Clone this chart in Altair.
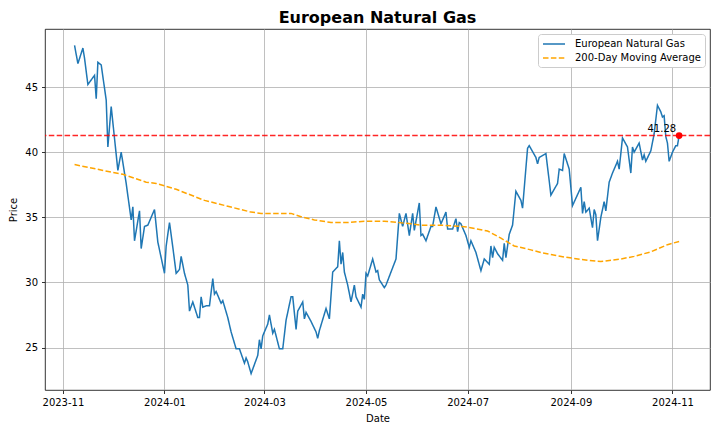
import altair as alt
import pandas as pd

# ---- data ----
price_dates = [
    "2023-11-08","2023-11-10","2023-11-13","2023-11-14","2023-11-16","2023-11-20","2023-11-21","2023-11-22",
    "2023-11-24","2023-11-27","2023-11-28","2023-11-30","2023-12-04","2023-12-06","2023-12-09","2023-12-12",
    "2023-12-13","2023-12-14","2023-12-17","2023-12-18","2023-12-20","2023-12-22","2023-12-26","2023-12-28",
    "2023-12-30","2024-01-01","2024-01-02","2024-01-04","2024-01-06","2024-01-08","2024-01-10","2024-01-11",
    "2024-01-13","2024-01-15","2024-01-16","2024-01-18","2024-01-21","2024-01-22","2024-01-23","2024-01-24",
    "2024-01-26","2024-01-28","2024-01-30","2024-01-31","2024-02-01","2024-02-04","2024-02-05","2024-02-08",
    "2024-02-10","2024-02-13","2024-02-15","2024-02-18","2024-02-19","2024-02-20","2024-02-22","2024-02-26",
    "2024-02-27","2024-02-28","2024-02-29","2024-03-03","2024-03-04","2024-03-06","2024-03-07","2024-03-10",
    "2024-03-12","2024-03-14","2024-03-17","2024-03-18","2024-03-20","2024-03-21","2024-03-24","2024-03-25",
    "2024-03-26","2024-03-29","2024-04-01","2024-04-02","2024-04-03","2024-04-07","2024-04-09","2024-04-11",
    "2024-04-14","2024-04-15","2024-04-16","2024-04-17","2024-04-18","2024-04-20","2024-04-22","2024-04-24",
    "2024-04-25","2024-04-28","2024-04-29","2024-04-30","2024-05-01","2024-05-02","2024-05-05","2024-05-07",
    "2024-05-08","2024-05-09","2024-05-12","2024-05-13","2024-05-16","2024-05-19","2024-05-21","2024-05-23",
    "2024-05-25","2024-05-27","2024-05-29","2024-05-30","2024-06-02","2024-06-03","2024-06-04","2024-06-06",
    "2024-06-09","2024-06-10","2024-06-12","2024-06-15","2024-06-18","2024-06-19","2024-06-22","2024-06-24",
    "2024-06-25","2024-06-26","2024-06-27","2024-06-30","2024-07-02","2024-07-03","2024-07-06","2024-07-09",
    "2024-07-11","2024-07-14","2024-07-15","2024-07-16","2024-07-17","2024-07-19","2024-07-22","2024-07-23",
    "2024-07-24","2024-07-26","2024-07-28","2024-07-30","2024-08-02","2024-08-03","2024-08-06","2024-08-07",
    "2024-08-11","2024-08-12","2024-08-13","2024-08-17","2024-08-19","2024-08-20","2024-08-24","2024-08-25",
    "2024-08-27","2024-08-28","2024-08-31","2024-09-02","2024-09-07","2024-09-08","2024-09-09","2024-09-10",
    "2024-09-12","2024-09-14","2024-09-15","2024-09-16","2024-09-17","2024-09-19","2024-09-21","2024-09-22",
    "2024-09-24","2024-09-26","2024-09-29","2024-09-30","2024-10-02","2024-10-05","2024-10-07","2024-10-08",
    "2024-10-09","2024-10-12","2024-10-14","2024-10-15","2024-10-16","2024-10-19","2024-10-21","2024-10-23",
    "2024-10-25","2024-10-26","2024-10-27","2024-10-28","2024-10-29","2024-10-30","2024-11-01","2024-11-03",
    "2024-11-04","2024-11-05",
]
price_values = [
    48.2, 46.8, 48.0, 47.2, 45.2, 45.9, 44.1, 46.9,
    46.7, 44.0, 40.4, 43.5, 38.6, 40.0, 37.6, 34.8,
    35.8, 33.2, 35.5, 32.6, 34.3, 34.4, 35.6, 33.1,
    31.9, 30.7, 32.8, 34.6, 32.7, 30.7, 31.0, 32.0,
    30.7, 29.8, 27.8, 28.5, 27.3, 27.3, 28.9, 28.1,
    28.2, 28.2, 30.3, 29.1, 29.3, 28.4, 28.6, 27.3,
    26.2, 24.9, 24.9, 23.8, 24.2, 23.9, 23.0, 24.4,
    25.6, 24.9, 25.9, 26.8, 27.5, 26.1, 26.4, 24.9,
    24.9, 27.1, 28.9, 28.9, 26.4, 27.8, 28.5, 27.2,
    27.7, 27.0, 26.2, 25.7, 26.3, 28.0, 27.2, 30.8,
    31.2, 33.2, 31.4, 32.3, 30.8, 29.8, 28.5, 29.8,
    28.9, 28.1, 29.1, 28.7, 30.7, 30.5, 31.8, 30.8,
    30.9, 30.2, 29.6, 29.8, 30.8, 31.8, 35.3, 34.3,
    35.3, 33.6, 35.3, 34.0, 36.1, 33.6, 33.7, 33.2,
    34.3, 34.3, 35.8, 34.5, 35.4, 34.1, 34.1, 34.9,
    33.9, 34.6, 34.5, 33.6, 32.7, 33.2, 32.3, 30.9,
    31.8, 31.4, 32.8, 31.9, 32.7, 32.2, 31.7, 33.0,
    31.9, 33.7, 34.4, 37.0, 36.3, 35.7, 40.3, 40.5,
    39.6, 39.1, 39.6, 39.9, 37.8, 36.7, 37.6, 38.7,
    38.6, 39.9, 38.7, 35.9, 37.3, 35.3, 36.2, 35.4,
    35.7, 34.2, 35.6, 35.2, 33.2, 35.0, 36.2, 35.5,
    37.7, 38.4, 39.3, 38.7, 41.1, 40.4, 38.4, 40.4,
    40.0, 40.7, 39.4, 39.8, 39.3, 40.1, 41.4, 43.6,
    43.1, 42.7, 42.8, 41.2, 40.7, 39.3, 40.0, 40.5,
    40.5, 41.28,
]
ma_dates = [
    "2023-11-08","2023-11-29","2023-12-07","2023-12-21","2023-12-27","2024-01-08","2024-01-11","2024-01-25",
    "2024-02-08","2024-02-22","2024-02-28","2024-03-17","2024-03-23","2024-03-31","2024-04-10","2024-04-20",
    "2024-04-30","2024-05-12","2024-05-20","2024-05-28","2024-06-03","2024-06-15","2024-06-27","2024-07-01",
    "2024-07-13","2024-07-21","2024-07-29","2024-08-08","2024-08-14","2024-08-28","2024-09-11","2024-09-19",
    "2024-10-01","2024-10-09","2024-10-19","2024-10-29","2024-11-05",
]
ma_values = [
    39.05, 38.5, 38.3, 37.7, 37.6, 37.15, 37.0, 36.3,
    35.85, 35.4, 35.3, 35.3, 35.05, 34.8, 34.6, 34.6,
    34.7, 34.7, 34.6, 34.5, 34.4, 34.4, 34.3, 34.25,
    33.95, 33.4, 32.8, 32.5, 32.3, 31.95, 31.7, 31.6,
    31.8, 32.0, 32.35, 32.9, 33.15,
]
series_names = ["European Natural Gas", "200-Day Moving Average"]
x_ticks = ["2023-11", "2024-01", "2024-03", "2024-05", "2024-07", "2024-09", "2024-11"]
y_ticks = [25, 30, 35, 40, 45]

# ---- tables ----
df_price = pd.DataFrame({"date": price_dates, "value": price_values, "series": series_names[0]})
df_ma = pd.DataFrame({"date": ma_dates, "value": ma_values, "series": series_names[1]})
df = pd.concat([df_price, df_ma], ignore_index=True)
last_value = price_values[-1]
df_last = pd.DataFrame({"date": [price_dates[-1]], "value": [last_value], "label": [f"{last_value:.2f}"]})

FONT = "DejaVu Sans"

def dt(s, h=0):
    y, m, d = s.split("-")
    return alt.DateTime(year=int(y), month=int(m), date=int(d), hours=h, utc=True)

x_scale = alt.Scale(type="utc", domain=[dt("2023-10-21", 6), dt("2024-11-23", 13)], nice=False)
y_scale = alt.Scale(domain=[21.74, 49.46], nice=False, zero=False)

x_axis = alt.Axis(
    title="Date", values=[dt(t + "-01") for t in x_ticks],
    labelExpr="utcFormat(datum.value, '%Y-%m')",
    labelFlush=False, labelOverlap=False,
)
y_axis = alt.Axis(title="Price", values=y_ticks, titlePadding=6)

X = alt.X("date:T", scale=x_scale, axis=x_axis)
Y = alt.Y("value:Q", scale=y_scale, axis=y_axis)

lines = alt.Chart(df).mark_line(strokeWidth=1.5).encode(
    x=X,
    y=Y,
    color=alt.Color(
        "series:N",
        scale=alt.Scale(domain=series_names, range=["#1f77b4", "#ffa500"]),
        legend=alt.Legend(title=None),
    ),
    strokeDash=alt.StrokeDash(
        "series:N",
        scale=alt.Scale(domain=series_names, range=[[1, 0], [5.5, 2.4]]),
        legend=alt.Legend(title=None),
    ),
    order=alt.Order("date:T"),
)

hline = alt.Chart(df_last).mark_rule(color="#ff0000", opacity=0.85, strokeWidth=1.6, strokeDash=[5.5, 2.4]).encode(
    y=Y
)

dot = alt.Chart(df_last).mark_point(filled=True, color="#ff0000", size=45, opacity=1).encode(
    x=X,
    y=Y,
)

label = alt.Chart(df_last).mark_text(
    align="right", baseline="alphabetic", dx=-3, dy=-4, font=FONT, fontSize=10, color="black"
).encode(
    x=X,
    y=Y,
    text="label:N",
)

chart = alt.layer(lines, hline, dot, label).properties(
    width=665,
    height=361,
    autosize=alt.AutoSizeParams(type="none"),
    padding={"left": 37, "top": 21, "right": 2, "bottom": 34},
    title=alt.Title("European Natural Gas", font=FONT, fontSize=16, fontWeight="bold",
                    color="black", anchor="middle", offset=3),
).configure_view(
    stroke="black", strokeWidth=0.8
).configure_axis(
    labelFont=FONT, labelFontSize=10, labelColor="black",
    titleFont=FONT, titleFontSize=10, titleFontWeight="normal", titleColor="black",
    tickColor="black", tickSize=3.5, tickWidth=0.8, labelPadding=4,
    domain=False, grid=True, gridColor="#b0b0b0", gridWidth=0.8,
).configure_axisX(titlePadding=6).configure_legend(
    orient="top-right", offset=5, strokeColor="#cccccc", fillColor="white", cornerRadius=3,
    padding=4, labelFont=FONT, labelFontSize=10, labelColor="black",
    symbolType="M-2.2,0H2.2", symbolSize=100, symbolStrokeWidth=1.5, symbolOffset=6,
    labelOffset=15, rowPadding=3,
)

chart.save("out.html", embed_options={"renderer": "svg", "actions": False})
